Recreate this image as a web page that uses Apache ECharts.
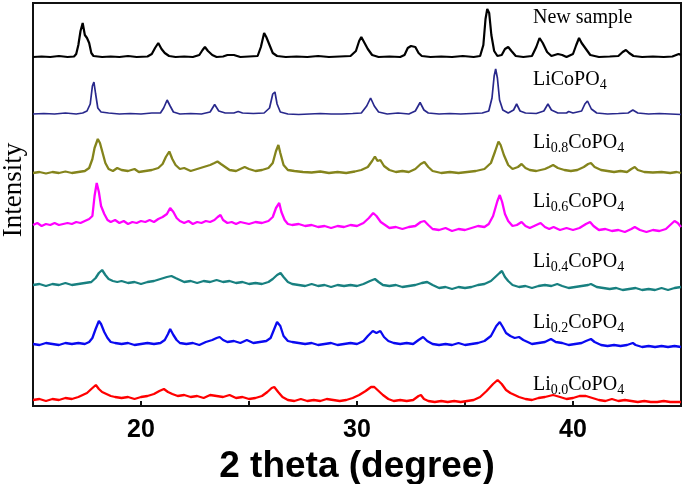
<!DOCTYPE html>
<html>
<head>
<meta charset="utf-8">
<script src="https://cdn.jsdelivr.net/npm/echarts@6/dist/echarts.min.js"></script>
<style>html,body{margin:0;padding:0;background:#fff}#c{width:685px;height:484px}</style>
</head>
<body>
<div id="c"></div>
<script>
// 2-theta (degree) vs. intensity above each pattern's own baseline (arbitrary units)
const newSample = [[15,0],[15.4,0.5],[15.8,0],[16.2,1],[16.6,0],[16.9,0.5],[17.0,3],[17.1,12],[17.2,26],[17.3,34],[17.4,22],[17.5,19],[17.6,14],[17.7,4],[17.8,1],[18.2,0],[18.6,0.5],[19.0,0],[19.4,1],[19.8,0],[20.3,0.5],[20.5,3],[20.65,9],[20.8,14],[20.95,8],[21.1,4],[21.3,1],[21.6,0],[22.0,0.5],[22.4,0],[22.7,2],[22.85,7],[22.96,10],[23.1,6],[23.3,2],[23.5,0],[23.8,0.5],[24.0,2],[24.3,2],[24.6,0],[25.0,0.5],[25.4,1],[25.55,10],[25.7,24],[25.8,20],[25.95,12],[26.1,4],[26.3,1],[26.7,0],[27.2,0.5],[27.7,0],[28.2,1],[28.7,0],[29.2,0.5],[29.7,1],[29.95,6],[30.1,16],[30.2,20],[30.35,14],[30.5,8],[30.7,2],[31.0,0],[31.5,0.5],[32.0,0],[32.2,2],[32.35,9],[32.5,11],[32.7,10],[32.85,4],[33.0,1],[33.4,0],[33.9,0.5],[34.4,0],[34.9,1],[35.4,0],[35.7,1],[35.85,12],[35.95,38],[36.03,48],[36.12,44],[36.22,22],[36.35,6],[36.5,1],[36.7,2],[36.85,8],[37.0,10],[37.15,6],[37.35,1],[37.7,0],[38.1,1],[38.3,10],[38.45,19],[38.6,14],[38.8,5],[39.0,1],[39.3,3],[39.5,2],[39.7,0],[40.0,3],[40.15,12],[40.28,19],[40.4,14],[40.6,8],[40.8,2],[41.2,0],[41.7,0.5],[42.1,1],[42.3,5],[42.45,7],[42.6,4],[42.8,1],[43.2,0],[43.7,0.5],[44.2,0],[44.6,0.5],[44.9,3],[45,2]];
const liCoPO4 = [[15,0],[15.5,0.5],[16,0],[16.5,1],[17.0,0],[17.3,1],[17.5,3],[17.65,10],[17.75,28],[17.82,32],[17.9,20],[18.0,6],[18.15,2],[18.5,1],[19,0],[19.5,0.5],[20,0],[20.5,1],[20.9,1],[21.05,6],[21.21,14],[21.35,8],[21.5,2],[21.8,0],[22.3,0.5],[22.8,0],[23.2,2],[23.41,9.5],[23.6,3],[23.9,1],[24.3,1],[24.5,2.5],[24.7,1],[25.2,0.5],[25.7,1],[25.95,6],[26.1,20],[26.2,22],[26.3,10],[26.45,2],[26.8,0],[27.3,-0.5],[27.8,0],[28.3,0.5],[28.8,0],[29.3,0],[29.8,0.5],[30.2,1],[30.45,8],[30.63,16],[30.8,8],[31.0,2],[31.4,0],[31.9,1],[32.4,0],[32.7,3],[32.92,11.5],[33.1,4],[33.3,1],[33.8,0],[34.3,0.5],[34.8,0],[35.3,0.5],[35.8,1],[36.1,3],[36.25,16],[36.35,38],[36.42,45],[36.5,36],[36.6,14],[36.75,4],[37.0,1],[37.25,4],[37.39,10],[37.55,3],[37.8,1],[38.3,0.5],[38.65,3],[38.84,10],[39.0,4],[39.3,1],[39.7,1],[39.8,2.5],[40.0,1],[40.4,3],[40.55,10],[40.67,13],[40.85,5],[41.1,1],[41.6,0],[42.1,0.5],[42.55,1],[42.77,4],[43.0,1],[43.5,0],[44,0.5],[44.5,0],[45,-0.5]];
const li08 = [[15,0],[15.3,1],[15.6,-0.5],[15.9,1],[16.2,0],[16.5,1.5],[16.8,0],[17.1,1],[17.4,2],[17.6,5],[17.75,14],[17.85,25],[18.0,34],[18.1,30],[18.2,22],[18.35,10],[18.5,4],[18.7,2],[18.9,5],[19.1,3],[19.4,2],[19.7,4],[19.9,1],[20.2,2],[20.5,3],[20.8,5],[21.0,9],[21.15,16],[21.31,21.5],[21.45,14],[21.6,8],[21.8,4],[22.0,5],[22.3,2],[22.6,4],[22.9,6],[23.2,8],[23.4,10],[23.54,11.5],[23.7,9],[23.9,6],[24.1,3],[24.4,2],[24.6,4],[24.8,6],[25.0,4],[25.3,2],[25.6,3],[25.9,5],[26.1,10],[26.25,22],[26.36,28],[26.45,20],[26.6,8],[26.8,3],[27.1,2],[27.5,1],[27.9,0.5],[28.3,1.5],[28.7,0],[29.1,1],[29.5,0],[29.9,1.5],[30.2,3],[30.5,6],[30.7,12],[30.83,16.5],[30.95,12],[31.08,13],[31.25,7],[31.5,3],[31.8,1],[32.1,2],[32.4,1],[32.7,4],[32.95,9],[33.12,11],[33.3,6],[33.5,2],[33.9,0],[34.3,1],[34.7,0],[35.1,1],[35.5,2],[35.9,4],[36.2,10],[36.4,22],[36.55,31.5],[36.65,28],[36.8,18],[37.0,8],[37.2,4],[37.45,6],[37.62,9],[37.8,5],[38.0,3],[38.3,2],[38.7,4],[38.9,6],[39.08,8],[39.3,5],[39.6,3],[39.9,2],[40.2,3],[40.5,6],[40.7,9],[40.83,10],[41.0,6],[41.3,3],[41.6,2],[41.9,1],[42.2,2],[42.5,1],[42.7,4],[42.86,6],[43.0,3],[43.3,1],[43.7,0.5],[44.1,1],[44.5,0],[44.8,1],[45,0]];
const li06 = [[15,1],[15.2,3],[15.4,0],[15.6,2],[15.8,1],[16.0,3],[16.2,1],[16.4,2],[16.6,3],[16.8,2],[17.0,4],[17.2,3],[17.4,5],[17.6,7],[17.75,10],[17.85,30],[17.95,43],[18.05,34],[18.15,20],[18.3,12],[18.45,6],[18.6,4],[18.8,6],[19.0,3],[19.2,5],[19.4,2],[19.6,4],[19.8,3],[20.0,5],[20.2,4],[20.4,6],[20.6,4],[20.8,7],[21.0,9],[21.2,12],[21.35,18],[21.5,14],[21.65,8],[21.8,5],[22.0,3],[22.2,5],[22.4,2],[22.6,4],[22.8,3],[23.0,5],[23.2,4],[23.4,6],[23.55,9],[23.68,11],[23.8,6],[24.0,3],[24.2,4],[24.4,2],[24.6,4],[24.8,3],[25.0,2],[25.3,4],[25.6,3],[25.9,5],[26.1,9],[26.25,18],[26.4,23],[26.5,14],[26.65,6],[26.8,2],[27.0,1],[27.3,2],[27.6,0],[27.9,1],[28.2,-1],[28.5,0],[28.8,-2],[29.1,0],[29.4,-1],[29.7,1],[30.0,0],[30.3,3],[30.55,8],[30.75,13],[30.9,10],[31.1,4],[31.3,1],[31.5,-2],[31.8,-1],[32.1,-3],[32.4,-1],[32.7,0],[32.95,4],[33.12,5],[33.3,1],[33.5,-3],[33.8,-4],[34.1,-2],[34.4,-5],[34.7,-3],[35.0,-4],[35.3,-2],[35.6,0],[35.9,-1],[36.1,2],[36.3,10],[36.5,25],[36.61,31],[36.72,24],[36.85,12],[37.0,5],[37.2,0],[37.4,1],[37.62,4],[37.8,0],[38.0,-2],[38.2,0],[38.5,3],[38.7,-1],[38.9,-3],[39.1,-1],[39.4,-4],[39.7,-2],[40.0,-4],[40.3,-2],[40.6,2],[40.79,4],[40.95,0],[41.2,-4],[41.5,-3],[41.8,-5],[42.1,-4],[42.4,-6],[42.7,-3],[42.86,-1],[43.1,-4],[43.4,-6],[43.7,-4],[44.0,-5],[44.3,-3],[44.5,1],[44.7,5],[44.85,3],[45,-1]];
const li04 = [[15,0],[15.3,1],[15.6,-1],[15.9,1],[16.2,0],[16.5,2],[16.8,0],[17.1,1],[17.4,2],[17.7,3],[17.9,7],[18.05,12],[18.2,15],[18.35,10],[18.5,6],[18.7,4],[18.9,3],[19.1,4],[19.4,2],[19.7,3],[20.0,1],[20.3,3],[20.6,4],[20.9,6],[21.2,8],[21.41,9],[21.6,7],[21.8,5],[22.0,3],[22.3,4],[22.6,2],[22.9,4],[23.2,3],[23.5,5],[23.8,3],[24.1,4],[24.4,2],[24.7,3],[25.0,1],[25.3,2],[25.6,1],[25.9,3],[26.1,6],[26.3,10],[26.46,12],[26.6,8],[26.8,3],[27.0,1],[27.3,0],[27.6,-1],[27.9,1],[28.2,-1],[28.5,0],[28.8,-2],[29.1,0],[29.4,-1],[29.7,0],[30.0,-1],[30.3,1],[30.6,4],[30.83,6],[31.0,3],[31.2,0],[31.5,-1],[31.8,0],[32.1,-2],[32.4,-1],[32.7,0],[33.0,2],[33.25,3],[33.5,0],[33.8,-3],[34.1,-2],[34.4,-4],[34.7,-2],[35.0,-3],[35.3,-2],[35.6,0],[35.9,1],[36.2,4],[36.45,9],[36.6,12],[36.71,14],[36.85,8],[37.0,4],[37.2,0],[37.5,-2],[37.8,-1],[38.1,-3],[38.4,-1],[38.7,0],[39.0,-1],[39.27,1],[39.5,-1],[39.8,-3],[40.1,-2],[40.4,-1],[40.7,0],[40.83,1],[41.1,-2],[41.4,-3],[41.7,-4],[42.0,-3],[42.3,-5],[42.6,-4],[42.9,-3],[43.2,-5],[43.5,-4],[43.8,-5],[44.1,-3],[44.4,-5],[44.7,-3],[45,-2]];
const li02 = [[15,0],[15.3,-1],[15.6,1],[15.9,0],[16.2,-1],[16.5,1],[16.8,0],[17.1,1],[17.4,0],[17.6,2],[17.75,6],[17.9,15],[18.05,23],[18.15,20],[18.3,12],[18.45,6],[18.6,2],[18.8,1],[19.1,0],[19.4,1],[19.7,-1],[20.0,0],[20.3,1],[20.6,0],[20.9,1],[21.1,4],[21.25,10],[21.35,15],[21.5,9],[21.65,4],[21.8,1],[22.1,0],[22.4,1],[22.7,-1],[23.0,2],[23.3,4],[23.5,6],[23.64,7],[23.8,4],[24.0,2],[24.3,3],[24.6,1],[24.9,4],[25.2,1],[25.5,2],[25.8,3],[26.0,6],[26.15,14],[26.3,22],[26.36,24],[26.45,18],[26.6,8],[26.8,3],[27.0,2],[27.3,1],[27.6,0],[27.9,1],[28.2,-1],[28.5,0],[28.8,1],[29.1,-1],[29.4,0],[29.7,1],[30.0,0],[30.3,3],[30.5,8],[30.73,13],[30.9,11],[31.08,13],[31.25,7],[31.45,3],[31.7,1],[32.0,0],[32.3,1],[32.6,0],[32.85,4],[33.06,7],[33.25,3],[33.5,0],[33.8,-1],[34.1,0],[34.4,-1],[34.7,1],[35.0,-1],[35.3,0],[35.6,1],[35.9,3],[36.2,8],[36.45,18],[36.61,22],[36.75,17],[36.9,11],[37.1,8],[37.3,6],[37.5,7],[37.7,4],[37.9,2],[38.1,0],[38.4,1],[38.7,2],[38.98,5],[39.2,2],[39.5,1],[39.8,-1],[40.1,0],[40.4,1],[40.6,3],[40.83,5],[41.0,2],[41.3,-1],[41.6,-2],[41.9,-1],[42.2,-2],[42.5,-1],[42.77,1],[42.9,-1],[43.2,-3],[43.5,-2],[43.8,-3],[44.1,-2],[44.4,-3],[44.7,-2],[45,-3]];
const li00 = [[15,0],[15.3,1],[15.6,-1],[15.9,1],[16.2,0],[16.5,2],[16.8,1],[17.1,3],[17.3,5],[17.5,7],[17.7,11],[17.91,15],[18.05,11],[18.2,8],[18.4,6],[18.6,4],[18.8,3],[19.1,2],[19.4,3],[19.7,1],[20.0,3],[20.3,4],[20.6,6],[20.85,9],[21.06,11],[21.25,8],[21.45,6],[21.7,4],[22.0,5],[22.3,3],[22.6,4],[22.9,2],[23.2,5],[23.5,4],[23.8,3],[24.1,5],[24.4,2],[24.7,3],[25.0,1],[25.3,2],[25.6,4],[25.85,8],[26.05,12],[26.17,13],[26.35,8],[26.55,3],[26.8,0],[27.1,-1],[27.4,1],[27.7,-1],[28.0,0],[28.3,-1],[28.6,1],[28.9,0],[29.2,-1],[29.5,0],[29.8,2],[30.1,5],[30.4,9],[30.65,13],[30.8,13],[31.0,9],[31.2,5],[31.45,1],[31.7,-1],[32.0,0],[32.3,-1],[32.6,0],[32.85,4],[32.96,5],[33.1,1],[33.3,-1],[33.6,-2],[33.9,-1],[34.2,-2],[34.5,-1],[34.8,-2],[35.1,-1],[35.4,0],[35.7,3],[36.0,9],[36.3,16],[36.51,20],[36.7,16],[36.9,10],[37.1,7],[37.3,5],[37.5,3],[37.8,1],[38.1,0],[38.4,2],[38.7,3],[39.08,5],[39.4,3],[39.7,1],[40.0,2],[40.3,4],[40.6,4],[40.9,2],[41.2,0],[41.5,-1],[41.8,1],[42.1,-1],[42.4,0],[42.7,-1],[43.0,-2],[43.3,-1],[43.6,-2],[43.9,-2],[44.2,-1],[44.5,-2],[44.8,-2],[45,-2]];

// vertical offsets of the stacked patterns (same arbitrary intensity units)
const offsets = [349, 292, 233, 180, 121, 62, 6];
const xLabelTicks = [20, 30, 40];
const sampleNames = ['New sample', 'LiCoPO4', 'Li0.8CoPO4', 'Li0.6CoPO4', 'Li0.4CoPO4', 'Li0.2CoPO4', 'Li0.0CoPO4'];

const curves = [newSample, liCoPO4, li08, li06, li04, li02, li00];
const colors = ['#000000', '#28288c', '#84841c', '#ff00ff', '#188080', '#0a0af0', '#ff0000'];
const widths = [2.2, 1.7, 2.3, 2.3, 2.3, 2.3, 2.3];
const labelY = [18, 80, 143, 202, 262, 323, 385];

function richName(name) {
  if (name === 'New sample') return '{m|New sample}';
  const m = name.match(/^Li([0-9.]*)CoPO4$/);
  return '{m|Li}' + (m[1] ? '{s|' + m[1] + '}' : '') + '{m|CoPO}{s|4}';
}

const serif = '"Liberation Serif","Times New Roman",serif';
const chart = echarts.init(document.getElementById('c'));
chart.setOption({
  animation: false,
  backgroundColor: '#ffffff',
  grid: { left: 33, right: 4, top: 3, bottom: 78, containLabel: false, outerBoundsMode: 'none',
    show: true, borderColor: '#111', borderWidth: 2, backgroundColor: 'transparent' },
  xAxis: {
    type: 'value', min: 15, max: 45, interval: 5,
    name: '2 theta (degree)', nameLocation: 'middle', nameGap: 37,
    nameTextStyle: { fontFamily: '"Liberation Sans",Arial,sans-serif', fontWeight: 'bold', fontSize: 37, color: '#000' },
    axisLine: { show: true, lineStyle: { color: '#111', width: 2 } },
    axisTick: { show: true, inside: true, length: 5, lineStyle: { color: '#111', width: 2 } },
    axisLabel: { margin: 12, fontFamily: '"Liberation Sans",Arial,sans-serif', fontWeight: 'bold', fontSize: 25, color: '#000',
      formatter: v => xLabelTicks.indexOf(v) >= 0 ? String(v) : '' },
    splitLine: { show: false }
  },
  yAxis: {
    type: 'value', min: 0, max: 403,
    axisLine: { show: true, lineStyle: { color: '#111', width: 2 } },
    axisTick: { show: false }, axisLabel: { show: false }, splitLine: { show: false }
  },
  series: curves.map((c, i) => ({
    type: 'line', name: sampleNames[i], showSymbol: false, symbol: 'none', smooth: false,
    lineStyle: { color: colors[i], width: widths[i] },
    data: c.map(p => [p[0], offsets[i] + p[1]])
  })),
  graphic: [
    { type: 'text', x: 14, y: 190, rotation: Math.PI / 2,
      style: { text: 'Intensity', font: '27px ' + serif, fill: '#000', textAlign: 'center', textVerticalAlign: 'middle' } }
  ].concat(sampleNames.map((n, i) => ({
    type: 'text', x: 533, y: labelY[i],
    style: {
      text: richName(n), textAlign: 'left', textVerticalAlign: 'middle', fill: '#000',
      rich: {
        m: { fontFamily: serif, fontSize: 20, lineHeight: 24, fill: '#000', color: '#000' },
        s: { fontFamily: serif, fontSize: 14, lineHeight: 15, padding: [11, 0, 0, 0], fill: '#000', color: '#000' }
      }
    }
  })))
});
</script>
</body>
</html>
